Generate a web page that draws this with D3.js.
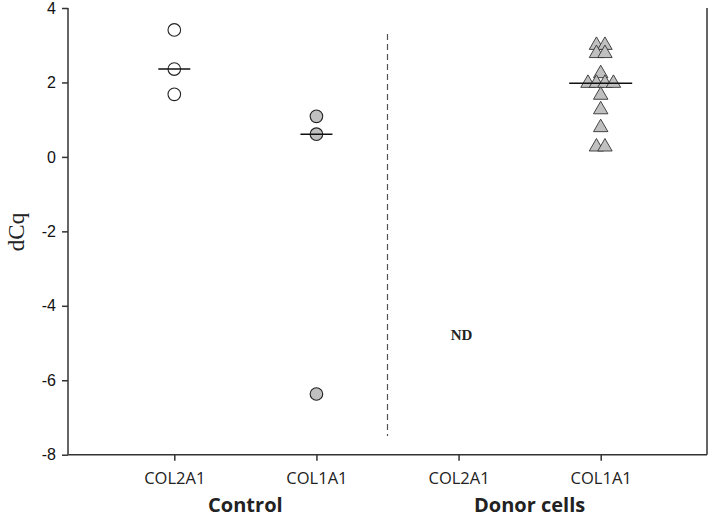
<!DOCTYPE html>
<html>
<head>
<meta charset="utf-8">
<script src="https://cdn.jsdelivr.net/npm/d3@7"></script>
<style>
  html, body { margin: 0; padding: 0; background: #fff; }
  svg { display: block; }
</style>
</head>
<body>
<svg id="chart" width="709" height="519"></svg>
<script>
// ---- data ----
const categories = ["c_COL2A1", "c_COL1A1", "d_COL2A1", "d_COL1A1"];
const tickLabels = ["COL2A1", "COL1A1", "COL2A1", "COL1A1"];
const groupLabels = ["Control", "Donor cells"];
const yTicks = [-8, -6, -4, -2, 0, 2, 4];

const controlCOL2A1 = [3.41, 2.36, 1.68];
const controlCOL1A1 = [1.09, 0.61, -6.37];
const donorCOL2A1 = [];            // not detected
const donorCOL1A1 = [3.0, 3.0, 2.78, 2.78, 2.24, 1.98, 1.98, 1.98, 1.98, 1.66, 1.27, 0.79, 0.27, 0.27];

const series = [
  { cat: "c_COL2A1", values: controlCOL2A1, shape: "circle", fill: "#ffffff", half: 16 },
  { cat: "c_COL1A1", values: controlCOL1A1, shape: "circle", fill: "#c0c0c0", half: 16 },
  { cat: "d_COL1A1", values: donorCOL1A1, shape: "triangle", fill: "#c0c0c0", half: 31.5 }
];

// ---- layout ----
const svg = d3.select("#chart");
const x = d3.scalePoint().domain(categories).range([174.3, 600.7]);
const y = d3.scaleLinear().domain([-8, 4]).range([454.7, 8]);
const axisLeftX = 68, axisRightX = 707;
const axisColor = "#333";

// y axis
const yAxis = svg.append("g")
  .attr("transform", `translate(${axisLeftX},0)`)
  .call(d3.axisLeft(y).tickValues(yTicks).tickSize(6).tickPadding(6).tickFormat(d => String(d)));
yAxis.select(".domain").attr("stroke", axisColor).attr("stroke-width", 1.5).attr("d", `M0,${y(4)}V${y(-8)}`);
yAxis.selectAll(".tick line").attr("stroke", axisColor).attr("stroke-width", 1.5);
yAxis.selectAll(".tick text")
  .attr("fill", "#111")
  .style("font-family", "'Liberation Sans', Arial, sans-serif")
  .style("font-size", "16px");

// x axis
const xAxis = svg.append("g")
  .attr("transform", `translate(0,${y(-8)})`)
  .call(d3.axisBottom(x).tickSize(6).tickPadding(12).tickFormat((d, i) => tickLabels[i]));
xAxis.select(".domain").attr("stroke", axisColor).attr("stroke-width", 1.5).attr("d", `M${axisLeftX},0H${axisRightX}`);
xAxis.selectAll(".tick line").attr("stroke", axisColor).attr("stroke-width", 1.5);
xAxis.selectAll(".tick text")
  .attr("fill", "#222")
  .style("font-family", "'Open Sans', sans-serif")
  .style("font-size", "16.5px");

// right frame line
svg.append("line")
  .attr("x1", axisRightX).attr("x2", axisRightX)
  .attr("y1", y(4)).attr("y2", y(-8))
  .attr("stroke", axisColor).attr("stroke-width", 1.5);

// group labels
const groupCenters = [
  (x("c_COL2A1") + x("c_COL1A1")) / 2,
  (x("d_COL2A1") + x("d_COL1A1")) / 2
];
svg.selectAll(".group-label").data(groupLabels).enter().append("text")
  .attr("class", "group-label")
  .attr("x", (d, i) => groupCenters[i])
  .attr("y", 512)
  .attr("text-anchor", "middle")
  .attr("fill", "#222")
  .style("font-family", "'Open Sans', sans-serif")
  .style("font-weight", "bold")
  .style("font-size", "20px")
  .text(d => d);

// y axis title
svg.append("text")
  .attr("transform", `translate(24,${232}) rotate(-90)`)
  .attr("text-anchor", "middle")
  .attr("fill", "#222")
  .style("font-family", "'Liberation Serif', 'Times New Roman', serif")
  .style("font-size", "23px")
  .text("dCq");

// dashed separator
const sepX = (x("c_COL1A1") + x("d_COL2A1")) / 2;
svg.append("line")
  .attr("x1", sepX).attr("x2", sepX)
  .attr("y1", y(3.3)).attr("y2", y(-7.5))
  .attr("stroke", "#555").attr("stroke-width", 1.2)
  .attr("stroke-dasharray", "6,4");

// ND label
svg.append("text")
  .attr("x", x("d_COL2A1") + 3)
  .attr("y", 340)
  .attr("text-anchor", "middle")
  .attr("fill", "#222")
  .style("font-family", "'Liberation Serif', 'Times New Roman', serif")
  .style("font-weight", "bold")
  .style("font-size", "15px")
  .text("ND");

// points: spread identical values horizontally (dot-plot style)
const spacing = 8.5;
series.forEach(s => {
  const groups = d3.group(s.values.map((v, i) => ({ v, i })), d => d.v);
  const pts = [];
  groups.forEach(arr => {
    arr.forEach((p, k) => pts.push({ v: p.v, off: (k - (arr.length - 1) / 2) * spacing }));
  });
  const med = d3.median(s.values);
  const g = svg.append("g");
  if (s.shape === "circle") {
    g.selectAll("circle").data(pts).enter().append("circle")
      .attr("cx", d => x(s.cat) + d.off)
      .attr("cy", d => y(d.v))
      .attr("r", 6.3)
      .attr("fill", s.fill)
      .attr("stroke", "#222")
      .attr("stroke-width", 1.1);
  } else {
    const tri = d3.symbol().type(d3.symbolTriangle).size(90);
    g.selectAll("path").data(pts).enter().append("path")
      .attr("d", tri)
      .attr("transform", d => `translate(${x(s.cat) + d.off},${y(d.v)})`)
      .attr("fill", s.fill)
      .attr("stroke", "#333")
      .attr("stroke-width", 0.9);
  }
  svg.append("line")
    .attr("x1", x(s.cat) - s.half).attr("x2", x(s.cat) + s.half)
    .attr("y1", y(med)).attr("y2", y(med))
    .attr("stroke", "#111").attr("stroke-width", 1.6);
});
</script>
</body>
</html>
